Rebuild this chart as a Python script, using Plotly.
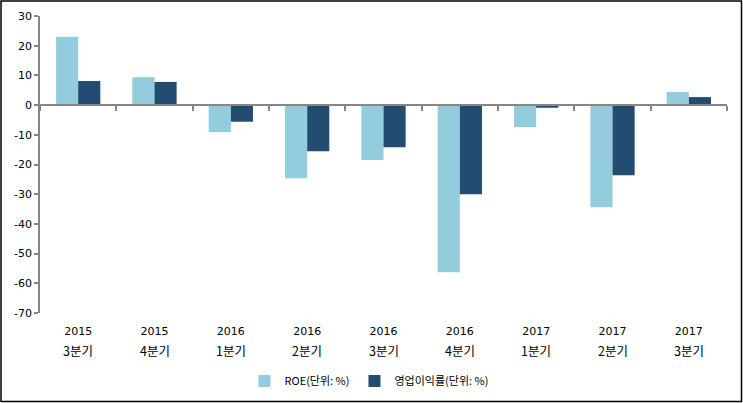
import plotly.graph_objects as go

years = ["2015", "2015", "2016", "2016", "2016", "2016", "2017", "2017", "2017"]
quarters = ["3분기", "4분기", "1분기", "2분기", "3분기", "4분기", "1분기", "2분기", "3분기"]
categories = [f"{y} {q}" for y, q in zip(years, quarters)]
roe = [23.0, 9.4, -9.1, -24.6, -18.5, -56.3, -7.4, -34.4, 4.4]
op_margin = [8.1, 7.8, -5.6, -15.5, -14.2, -30.0, -0.9, -23.6, 2.7]
series_names = ["ROE(단위: %)", "영업이익률(단위: %)"]
y_range = [-70, 30]
y_ticks = list(range(-70, 31, 10))
y_tick_labels = [str(v) for v in y_ticks]

W, H = 743, 403
ML, MR, MT, MB = 40, 16, 16, 90
PW, PH = W - ML - MR, H - MT - MB

FONT = "Noto Sans CJK KR"
NUMFONT = "DejaVu Sans"

fig = go.Figure()
fig.add_trace(go.Bar(x=categories, y=roe, name=series_names[0],
                     marker=dict(color="#93CDDD", line=dict(width=0))))
fig.add_trace(go.Bar(x=categories, y=op_margin, name=series_names[1],
                     marker=dict(color="#234C73", line=dict(width=0))))

# invisible trace to hold the secondary x axis (zero line with boundary ticks)
fig.add_trace(go.Scatter(x=categories, y=[0] * len(categories), xaxis="x2",
                         mode="markers", marker=dict(opacity=0), showlegend=False,
                         hoverinfo="skip"))

for i, q in enumerate(quarters):
    fig.add_annotation(x=categories[i], y=(313 - 350) / PH,
                       xref="x", yref="paper", text=q, showarrow=False,
                       font=dict(family=FONT, size=12.5, color="#000000"),
                       yanchor="middle")

zero_pos = (0 - y_range[0]) / (y_range[1] - y_range[0])

fig.update_layout(
    width=W, height=H,
    margin=dict(l=ML, r=MR, t=MT, b=MB, autoexpand=False),
    paper_bgcolor="white", plot_bgcolor="white",
    barmode="group", bargap=0.42, bargroupgap=0,
    font=dict(family=FONT, size=11, color="#000000"),
    xaxis=dict(
        tickmode="array", tickvals=categories, ticktext=years,
        showline=False, showgrid=False, zeroline=False, automargin=False,
        ticks="outside", ticklen=8, tickcolor="rgba(0,0,0,0)",
        tickfont=dict(family=NUMFONT, size=11, color="#000000"),
    ),
    xaxis2=dict(
        overlaying="x", anchor="free", position=zero_pos,
        matches="x", showline=True, linecolor="#868686", linewidth=1.5,
        ticks="outside", ticklen=5, tickcolor="#868686", tickwidth=1.5,
        tickson="boundaries", showticklabels=False, showgrid=False,
        zeroline=False, side="bottom", automargin=False,
    ),
    yaxis=dict(
        range=y_range, tickmode="array", tickvals=y_ticks, ticktext=y_tick_labels,
        showgrid=False, zeroline=False,
        showline=True, linecolor="#868686", linewidth=1.5, automargin=False,
        ticks="outside", ticklen=4, tickcolor="#868686", tickwidth=1.5,
        tickfont=dict(family=NUMFONT, size=11, color="#000000"),
    ),
    legend=dict(orientation="h", x=(369 - ML) / PW, xanchor="center",
                y=(313 - 381) / PH, yanchor="middle",
                font=dict(family=FONT, size=11, color="#000000"),
                itemwidth=30, traceorder="normal"),
    shapes=[dict(type="rect", xref="paper", yref="paper",
                 x0=-(ML - 1) / PW, x1=(W - 1.5 - ML) / PW,
                 y0=-(MB - 1.5) / PH, y1=(PH + MT - 1) / PH,
                 line=dict(color="#000000", width=1.5), fillcolor="rgba(0,0,0,0)",
                 layer="above")],
)

fig.write_html("out.html", config={"displayModeBar": False},
               post_script="document.body.style.margin='0';"
                           "document.body.style.overflow='hidden';")
